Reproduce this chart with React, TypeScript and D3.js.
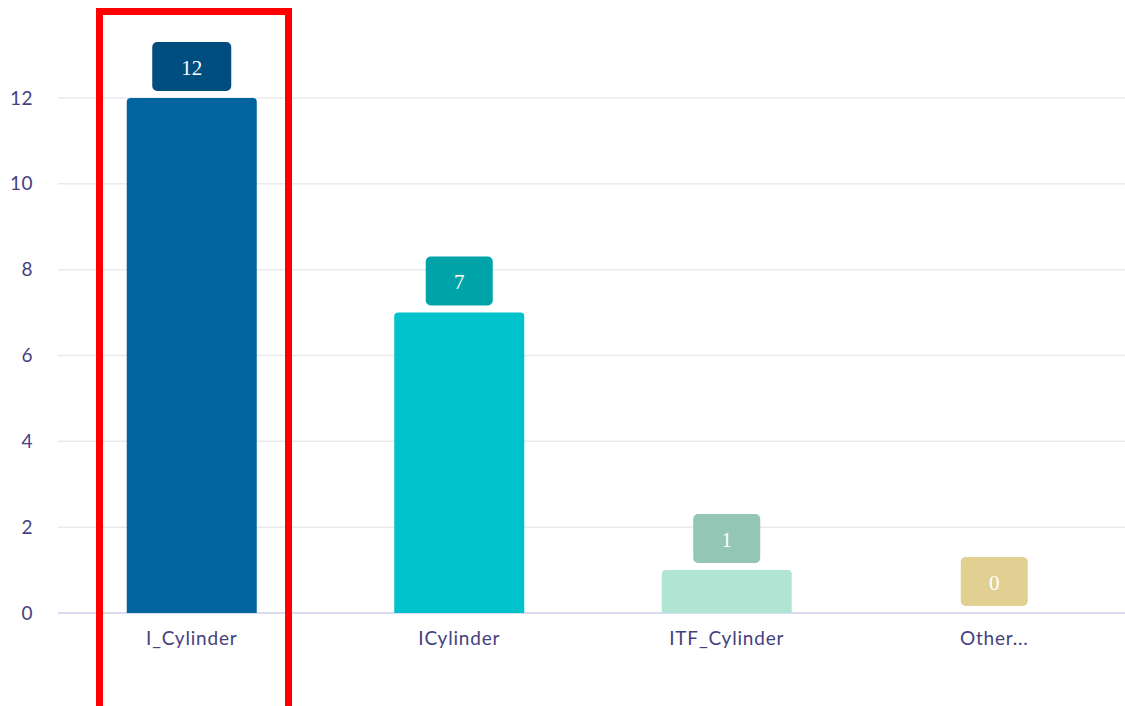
import { useEffect, useRef } from 'react'
import * as d3 from 'd3'

const categories = ['I_Cylinder', 'ICylinder', 'ITF_Cylinder', 'Other...']
const counts = [12, 7, 1, 0]
const barColors = ['#00649e', '#00c2cb', '#b0e5d4', '#e8d9a0']
const tagColors = ['#004d80', '#00a3a8', '#93c6b4', '#e2d092']
const yTicks = [0, 2, 4, 6, 8, 10, 12]

function CountChart() {
  const svgRef = useRef<SVGSVGElement>(null)

  useEffect(() => {
    const width = 1125
    const height = 706
    const left = 58
    const right = 1128
    const bottom = 613

    const svg = d3.select(svgRef.current)
    svg.selectAll('*').remove()
    svg.attr('width', width).attr('height', height)

    const x = d3.scaleBand<string>().domain(categories).range([left, right]).padding(0)
    const y = d3.scaleLinear().domain([0, 12]).range([bottom, 98])
    const barW = x.bandwidth() * 0.486

    // grid
    svg.append('g')
      .selectAll('line')
      .data(yTicks.filter(t => t > 0))
      .join('line')
      .attr('x1', left)
      .attr('x2', width)
      .attr('y1', d => y(d))
      .attr('y2', d => y(d))
      .attr('stroke', '#e9e9ef')
      .attr('stroke-width', 1.5)

    svg.append('line')
      .attr('x1', left)
      .attr('x2', width)
      .attr('y1', y(0))
      .attr('y2', y(0))
      .attr('stroke', '#ccd0e8')
      .attr('stroke-width', 1.5)

    // y tick labels
    svg.append('g')
      .selectAll('text')
      .data(yTicks)
      .join('text')
      .attr('x', 33)
      .attr('y', d => y(d))
      .attr('dy', '0.35em')
      .attr('text-anchor', 'end')
      .attr('fill', '#45417f')
      .attr('font-family', 'Lato, sans-serif')
      .attr('font-size', '19px')
      .attr('letter-spacing', '0.5px')
      .text(d => d)

    // bars
    svg.append('g')
      .selectAll('path')
      .data(categories)
      .join('path')
      .attr('d', (c, i) => {
        const x0 = x(c)! + (x.bandwidth() - barW) / 2
        const y0 = y(counts[i])
        const h = y(0) - y0
        if (h <= 0) return ''
        const r = Math.min(4, h)
        return `M${x0},${y(0)}V${y0 + r}Q${x0},${y0} ${x0 + r},${y0}H${x0 + barW - r}Q${x0 + barW},${y0} ${x0 + barW},${y0 + r}V${y(0)}Z`
      })
      .attr('fill', (c, i) => barColors[i])

    // value tags
    categories.forEach((c, i) => {
      const cx = x(c)! + x.bandwidth() / 2
      const label = String(counts[i])
      const tw = label.length > 1 ? 79 : 67
      const g = svg.append('g')
      g.append('rect')
        .attr('x', cx - tw / 2)
        .attr('y', y(counts[i]) - 7 - 49)
        .attr('width', tw)
        .attr('height', 49)
        .attr('rx', 5)
        .attr('fill', tagColors[i])
      g.append('text')
        .attr('x', cx)
        .attr('y', y(counts[i]) - 7 - 23.5)
        .attr('dy', '0.35em')
        .attr('text-anchor', 'middle')
        .attr('fill', '#ffffff')
        .attr('font-family', '"Liberation Serif", serif')
        .attr('font-size', '21px')
        .text(label)
    })

    // category labels
    svg.append('g')
      .selectAll('text')
      .data(categories)
      .join('text')
      .attr('x', c => x(c)! + x.bandwidth() / 2)
      .attr('y', 638)
      .attr('dy', '0.35em')
      .attr('text-anchor', 'middle')
      .attr('fill', '#45417f')
      .attr('font-family', 'Lato, sans-serif')
      .attr('font-size', '19px')
      .attr('letter-spacing', '0.8px')
      .text(c => c)

    // highlight box
    svg.append('rect')
      .attr('x', 99.5)
      .attr('y', 11.5)
      .attr('width', 189)
      .attr('height', 698)
      .attr('fill', 'none')
      .attr('stroke', '#ff0000')
      .attr('stroke-width', 7)
  }, [])

  return <svg ref={svgRef} style={{ position: 'absolute', left: 0, top: 0, background: '#fff' }} />
}

export default function App() {
  return <CountChart />
}
